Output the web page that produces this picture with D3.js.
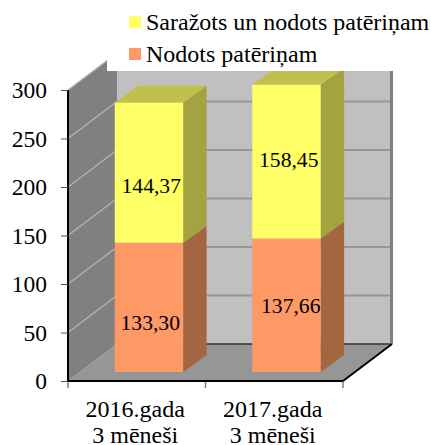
<!DOCTYPE html>
<html><head><meta charset="utf-8">
<script src="https://cdn.jsdelivr.net/npm/d3@7/dist/d3.min.js"></script>
<style>html,body{margin:0;padding:0;background:#fff}svg{display:block}text{font-family:"Liberation Serif",serif;fill:#000}</style>
</head><body><svg id="c" width="431" height="445"></svg>
<script>
const categories = ["2016.gada|3 mēneši", "2017.gada|3 mēneši"];
const nodots = [133.30, 137.66];
const sarazots = [144.37, 158.45];
const nodotsLabels = ["133,30", "137,66"];
const sarazotsLabels = ["144,37", "158,45"];
const yTicks = [0, 50, 100, 150, 200, 250, 300];
const legendNames = ["Saražots un nodots patēriņam", "Nodots patēriņam"];

const svg = d3.select("#c");
const L = 68, R = 343, B = 381, T = 90, DX = 49, DY = 37;
const y = d3.scaleLinear().domain([0, 300]).range([B, T]);
const x = d3.scaleBand().domain(categories).range([L, R]).paddingInner(0).paddingOuter(0);
const barW = x.bandwidth() * 0.497;
const poly = (pts, fill, stroke) => svg.append("polygon").attr("points", pts.map(p => p.join(",")).join(" ")).attr("fill", fill).attr("stroke", stroke || "none");

// walls
poly([[L + DX, T - DY], [R + DX, T - DY], [R + DX, B - DY], [L + DX, B - DY]], "#c0c0c0");
poly([[L, T], [L + DX, T - DY], [L + DX, B - DY], [L, B]], "#808080");
poly([[L, B], [L + DX, B - DY], [R + DX, B - DY], [R, B]], "#969696");
// gridlines
yTicks.slice(1).forEach(v => {
  svg.append("line").attr("x1", L).attr("y1", y(v)).attr("x2", L + DX).attr("y2", y(v) - DY).attr("stroke", "#b4b4b4").attr("stroke-width", 1.3);
  svg.append("line").attr("x1", L + DX).attr("y1", y(v) - DY).attr("x2", R + DX).attr("y2", y(v) - DY).attr("stroke", "#969696").attr("stroke-width", 2);
});
svg.append("line").attr("x1", L + DX).attr("y1", B - DY).attr("x2", R + DX).attr("y2", B - DY).attr("stroke", "#333").attr("stroke-width", 1.5);
svg.append("line").attr("x1", R + DX - 0.5).attr("y1", T - DY).attr("x2", R + DX - 0.5).attr("y2", B - DY).attr("stroke", "#808080").attr("stroke-width", 3);

// bars
const bx = 12.2, by = 9, bdx = 23.5, bdy = 17;
const seg = (i, lo, hi, front, side, top) => {
  const x0 = x(categories[i]) + (x.bandwidth() - barW) / 2 + bx, x1 = x0 + barW;
  const yl = y(lo) - by, yh = y(hi) - by;
  poly([[x1, yl], [x1 + bdx, yl - bdy], [x1 + bdx, yh - bdy], [x1, yh]], side);
  if (top) poly([[x0, yh], [x0 + bdx, yh - bdy], [x1 + bdx, yh - bdy], [x1, yh]], top);
  svg.append("rect").attr("x", x0).attr("y", yh).attr("width", barW).attr("height", yl - yh).attr("fill", front);
};
categories.forEach((c, i) => {
  seg(i, 0, nodots[i], "#ff9966", "#a36640");
  seg(i, nodots[i], nodots[i] + sarazots[i], "#ffff66", "#a3a340", "#c0c04d");
});

// legend background
svg.append("rect").attr("x", 107).attr("y", 0).attr("width", 324).attr("height", 71).attr("fill", "#fff");
const legendColors = ["#ffff66", "#ff9966"];
legendNames.forEach((n, i) => {
  svg.append("rect").attr("x", 129).attr("y", 16 + i * 32).attr("width", 12).attr("height", 12).attr("fill", legendColors[i]);
  svg.append("text").attr("x", 146).attr("y", 30 + i * 32).attr("font-size", 24).text(n);
});

// axes
const gy = svg.append("g").attr("transform", `translate(${L},0)`).call(d3.axisLeft(y).tickValues(yTicks).tickSize(7).tickPadding(14));
gy.selectAll("text").attr("font-size", 23.5).attr("font-family", "Liberation Serif").attr("dy", "0.32em");
gy.selectAll("line").attr("stroke", "#555");
gy.select(".domain").attr("d", `M0,${T}V${B}`).attr("stroke", "#000").attr("stroke-width", 2);

const gx = svg.append("g").attr("transform", `translate(0,${B})`).call(d3.axisBottom(x).tickSize(0).tickFormat(""));
gx.select(".domain").attr("d", `M${L},0H${R}`).attr("stroke", "#000").attr("stroke-width", 2);
[L, L + x.step(), R].forEach(p => svg.append("line").attr("x1", p).attr("x2", p).attr("y1", B + 1).attr("y2", B + 7).attr("stroke", "#808080").attr("stroke-width", 1.5));
svg.append("line").attr("x1", R).attr("y1", B).attr("x2", R + DX).attr("y2", B - DY).attr("stroke", "#000").attr("stroke-width", 2);

categories.forEach(c => {
  const cx = x(c) + x.bandwidth() / 2 - 1.5;
  c.split("|").forEach((t, j) => svg.append("text").attr("x", cx).attr("y", 417 + j * 26).attr("text-anchor", "middle").attr("font-size", 24).text(t));
});

// data labels
const labelOffsets = { n: [[13.5, 0], [16.5, 0]], s: [[14.5, 0], [14.5, 0]] };
const nBase = [330, 313], sBase = [193, 167];
categories.forEach((c, i) => {
  const cx = x(c) + x.bandwidth() / 2;
  svg.append("text").attr("x", cx + labelOffsets.n[i][0]).attr("y", nBase[i]).attr("text-anchor", "middle").attr("font-size", 21.6).text(nodotsLabels[i]);
  svg.append("text").attr("x", cx + labelOffsets.s[i][0]).attr("y", sBase[i]).attr("text-anchor", "middle").attr("font-size", 21.6).text(sarazotsLabels[i]);
});
</script></body></html>
